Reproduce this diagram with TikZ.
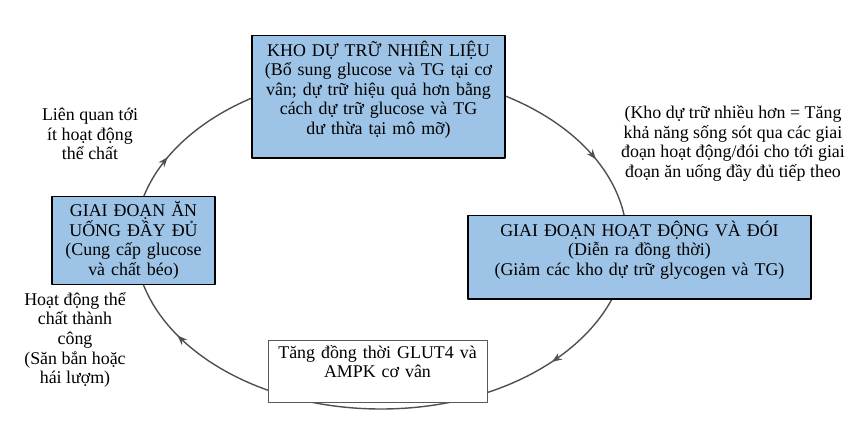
\documentclass[tikz,border=0pt]{standalone}
\usepackage{fontspec}
\setmainfont{Liberation Serif}
\usetikzlibrary{arrows.meta,decorations.markings}
\definecolor{boxblue}{RGB}{157,195,230}
\definecolor{cyclegray}{RGB}{80,80,80}
\newcommand{\diagfont}{\fontsize{17.9pt}{19.6pt}\selectfont}
\begin{document}
\begin{tikzpicture}[x=1pt,y=1pt,line join=round,>={Stealth[length=10pt,width=7.5pt]},
  stagebox/.style={draw=black,line width=1.3pt,fill=boxblue,align=center,anchor=north,inner xsep=4pt,inner ysep=5pt,font=\diagfont},
  notebox/.style={draw=black!65,line width=0.8pt,fill=white,align=center,anchor=north,inner xsep=4pt,inner ysep=5pt,font=\diagfont},
  sidetext/.style={align=center,inner sep=0pt,font=\diagfont}]
\useasboundingbox (0,0) rectangle (857,442);
\draw[line width=1.4pt,cyclegray,postaction={decorate},decoration={markings,
  mark=at position 0.113 with {\arrow{>}},
  mark=at position 0.419 with {\arrow{>}},
  mark=at position 0.570 with {\arrow{>}},
  mark=at position 0.932 with {\arrow{>}}}]
  (627,201) arc[start angle=0,end angle=-360,x radius=246pt,y radius=168pt];
\node[stagebox,text width=245pt,text depth=97pt] (fuel) at (378.5,407) {KHO DỰ TRỮ NHIÊN LIỆU\\(Bổ sung glucose và TG tại cơ\\vân; dự trữ hiệu quả hơn bằng\\cách dự trữ glucose và TG\\dư thừa tại mô mỡ)};
\node[stagebox,text width=335pt,text depth=58pt] (fast) at (639.5,227) {GIAI ĐOẠN HOẠT ĐỘNG VÀ ĐÓI\\(Diễn ra đồng thời)\\(Giảm các kho dự trữ glycogen và TG)};
\node[notebox,text width=211pt,text depth=39pt] (glut) at (377.5,102) {Tăng đồng thời GLUT4 và\\AMPK cơ vân};
\node[stagebox,anchor=center,text width=155pt,minimum height=85pt] (feast) at (133.5,201.5) {GIAI ĐOẠN ĂN\\UỐNG ĐẦY ĐỦ\\(Cung cấp glucose\\và chất béo)};
\node[sidetext] (lowact) at (90,308) {Liên quan tới\\ít hoạt động\\thể chất};
\node[sidetext] (surplus) at (733,298.5) {(Kho dự trữ nhiều hơn = Tăng\\khả năng sống sót qua các giai\\đoạn hoạt động/đói cho tới giai\\đoạn ăn uống đầy đủ tiếp theo};
\node[sidetext] (hunt) at (75,102) {Hoạt động thể\\chất thành\\công\\(Săn bắn hoặc\\hái lượm)};
\end{tikzpicture}
\end{document}
